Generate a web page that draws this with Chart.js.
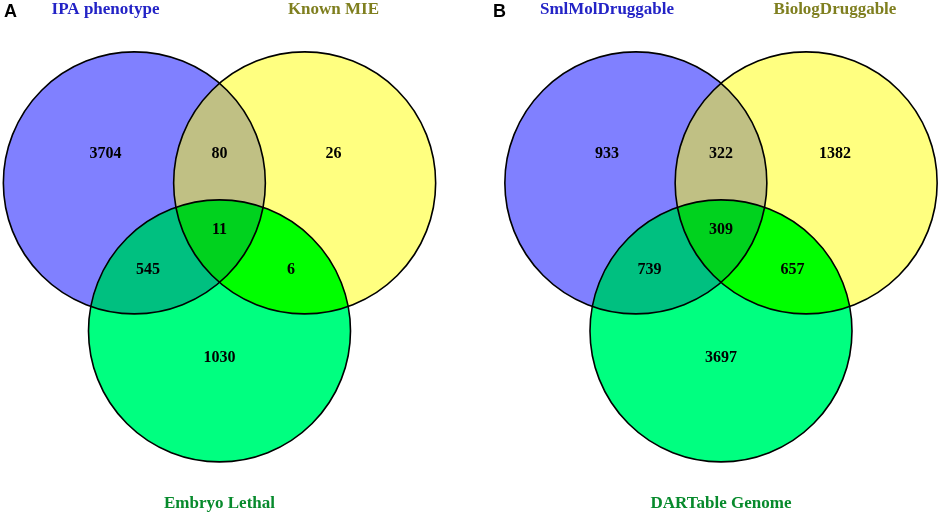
<!DOCTYPE html>
<html lang="en">

<head>
    <meta charset="UTF-8">
    <meta name="viewport" content="width=device-width, initial-scale=1.0">
    <title>Venn diagrams</title>
    <script src="https://cdn.jsdelivr.net/npm/chart.js"></script>
    <style>
        html, body {
            margin: 0;
            padding: 0;
            background: #fff;
        }
        .wrapper {
            position: absolute;
            top: 0;
            height: 514px;
        }
        #panelA { left: 0; width: 470px; }
        #panelB { left: 470px; width: 471px; }
    </style>
</head>

<body>
    <div class="wrapper" id="panelA"><canvas id="vennA"></canvas></div>
    <div class="wrapper" id="panelB"><canvas id="vennB"></canvas></div>

    <script>
        // regions: only first, first+second, only second, first+third, all, second+third, only third
        const regionKeys = ['A', 'AB', 'B', 'AC', 'ABC', 'BC', 'C'];

        const setNamesA = ['IPA phenotype', 'Known MIE', 'Embryo Lethal'];
        const countsA = [3704, 80, 26, 545, 11, 6, 1030];

        const setNamesB = ['SmlMolDruggable', 'BiologDruggable', 'DARTable Genome'];
        const countsB = [933, 322, 1382, 739, 309, 657, 3697];

        // layout in circle-radius units, origin at the middle of the diagram
        const circles = [
            { x: -0.65, y: 0.375, r: 1 },
            { x: 0.65, y: 0.375, r: 1 },
            { x: 0, y: -0.755, r: 1 },
        ];
        const labelPos = {
            A: [-0.87, 0.6], AB: [0, 0.6], B: [0.87, 0.6],
            AC: [-0.545, -0.29], ABC: [0, 0.015], BC: [0.545, -0.29],
            C: [0, -0.96],
        };
        const namePos = [[-0.87, 1.695], [0.87, 1.695], [0, -2.07]];
        const nameColors = ['#2323c6', '#7f7f1f', '#078a2c'];
        const setColors = ['#8080ff', '#ffff80', '#00ff80'];
        const overlapColors = { AB: '#c0c084', AC: '#00c080', BC: '#00ff00', ABC: '#00d21e' };

        const R_PX = 131;

        const vennPlugin = {
            id: 'venn',
            beforeDatasetsDraw(chart) {
                const { ctx, scales: { x, y } } = chart;
                const rpx = Math.abs(x.getPixelForValue(1) - x.getPixelForValue(0));
                const path = (i) => {
                    const c = circles[i];
                    ctx.beginPath();
                    ctx.arc(x.getPixelForValue(c.x), y.getPixelForValue(c.y), c.r * rpx, 0, Math.PI * 2);
                };
                const fillRegion = (members, color) => {
                    ctx.save();
                    for (let k = 0; k < members.length - 1; k++) {
                        path(members[k]);
                        ctx.clip();
                    }
                    path(members[members.length - 1]);
                    ctx.fillStyle = color;
                    ctx.fill();
                    ctx.restore();
                };
                fillRegion([0], setColors[0]);
                fillRegion([1], setColors[1]);
                fillRegion([0, 1], overlapColors.AB);
                fillRegion([2], setColors[2]);
                fillRegion([0, 2], overlapColors.AC);
                fillRegion([1, 2], overlapColors.BC);
                fillRegion([0, 1, 2], overlapColors.ABC);
                ctx.save();
                ctx.strokeStyle = '#000';
                ctx.lineWidth = 1.6;
                for (let i = 0; i < 3; i++) {
                    path(i);
                    ctx.stroke();
                }
                ctx.restore();
            },
            afterDatasetsDraw(chart, args, opts) {
                const { ctx, scales: { x, y } } = chart;
                ctx.save();
                ctx.textAlign = 'center';
                ctx.textBaseline = 'middle';
                ctx.fillStyle = '#000';
                ctx.font = 'bold 16px "Liberation Serif", "Times New Roman", serif';
                const meta = chart.getDatasetMeta(0);
                meta.data.forEach((pt, i) => {
                    ctx.fillText(String(chart.data.datasets[0].data[i].v), pt.x, pt.y);
                });
                ctx.font = 'bold 17px "Liberation Serif", "Times New Roman", serif';
                opts.names.forEach((name, i) => {
                    ctx.fillStyle = nameColors[i];
                    ctx.fillText(name, x.getPixelForValue(namePos[i][0]), y.getPixelForValue(namePos[i][1]));
                });
                ctx.font = 'bold 18px "Liberation Sans", Arial, sans-serif';
                ctx.fillStyle = '#000';
                ctx.textAlign = 'left';
                ctx.fillText(opts.letter, opts.letterX, 12);
                ctx.restore();
            }
        };

        function makeVenn(canvasId, letter, names, counts, widthPx, centerPx, letterX) {
            const points = regionKeys.map((k, i) => ({ x: labelPos[k][0], y: labelPos[k][1], v: counts[i] }));
            const ctx = document.getElementById(canvasId).getContext('2d');
            new Chart(ctx, {
                type: 'scatter',
                data: {
                    datasets: [{
                        label: letter,
                        data: points,
                        pointRadius: 0,
                        pointHoverRadius: 0,
                    }]
                },
                options: {
                    responsive: true,
                    maintainAspectRatio: false,
                    animation: false,
                    layout: { padding: 0 },
                    scales: {
                        x: { type: 'linear', display: false, min: -centerPx / R_PX, max: (widthPx - centerPx) / R_PX },
                        y: { type: 'linear', display: false, min: (232 - 514) / R_PX, max: 232 / R_PX },
                    },
                    plugins: {
                        legend: { display: false },
                        tooltip: { enabled: false },
                        venn: { names: names, letter: letter, letterX: letterX },
                    }
                },
                plugins: [vennPlugin]
            });
        }

        makeVenn('vennA', 'A', setNamesA, countsA, 470, 219.5, 4);
        makeVenn('vennB', 'B', setNamesB, countsB, 471, 251, 23);
    </script>
</body>

</html>
